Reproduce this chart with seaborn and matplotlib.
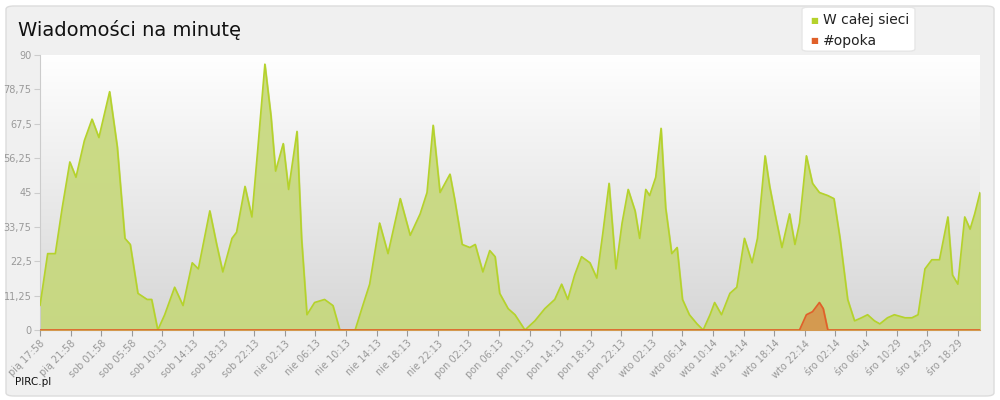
import numpy as np
import matplotlib
matplotlib.use("Agg")
import matplotlib.pyplot as plt
import seaborn as sns
import pandas as pd
from matplotlib.patches import FancyBboxPatch

hours = [0,1.0,2.0,2.9,3.9,4.7,5.8,6.8,7.7,9.1,10.1,11.1,11.8,12.8,14.0,14.6,15.4,16.3,17.6,18.7,19.9,20.7,22.2,23.1,23.9,25.1,25.7,26.8,27.7,28.5,29.4,30.2,30.8,31.8,32.5,33.6,34.2,34.9,35.9,37.2,38.3,39.2,41.2,42.2,43.1,44.4,45.5,47.1,48.4,49.7,50.6,51.4,52.3,53.6,54.2,55.2,56.2,56.9,57.9,58.8,59.5,60.1,61.2,62.1,63.4,64.7,66.0,67.3,68.2,69.0,69.9,70.8,71.9,72.8,73.6,74.4,75.3,76.1,76.9,77.8,78.4,79.2,79.7,80.5,81.2,81.8,82.6,83.3,84.0,84.9,85.9,86.7,87.6,88.2,89.1,90.2,91.1,92.1,93.1,93.8,94.8,95.4,96.1,97.0,98.0,98.7,99.3,100.2,101.0,101.9,103.0,103.8,104.6,105.6,106.5,107.4,108.2,109.1,109.8,110.8,111.7,113.1,114.0,114.8,115.7,116.6,117.6,118.7,119.3,120.0,120.9,121.6,122.2,122.9]
network = [8,25,25,40,55,50,62,69,63,78,60,30,28,12,10,10,0,5,14,8,22,20,39,28,19,30,32,47,37,60,87,70,52,61,46,65,30,5,9,10,8,0,0,8,15,35,25,43,31,38,45,67,45,51,43,28,27,28,19,26,24,12,7,5,0,3,7,10,15,10,18,24,22,17,32,48,20,35,46,39,30,46,44,50,66,40,25,27,10,5,2,0,5,9,5,12,14,30,22,30,57,47,38,27,38,28,35,57,48,45,44,43,30,10,3,4,5,3,2,4,5,4,4,5,20,23,23,37,18,15,37,33,38,45]
opoka_hours = [0, 98.0, 99.3, 100.2, 101.0, 101.9, 102.4, 103.0, 122.9]
opoka = [0, 0, 0, 5, 6, 9, 7, 0, 0]
tick_labels = ["pią 17:58","pią 21:58","sob 01:58","sob 05:58","sob 10:13","sob 14:13","sob 18:13","sob 22:13","nie 02:13","nie 06:13","nie 10:13","nie 14:13","nie 18:13","nie 22:13","pon 02:13","pon 06:13","pon 10:13","pon 14:13","pon 18:13","pon 22:13","wto 02:13","wto 06:14","wto 10:14","wto 14:14","wto 18:14","wto 22:14","śro 02:14","śro 06:14","śro 10:29","śro 14:29","śro 18:29"]
yticks = [0, 11.25, 22.5, 33.75, 45, 56.25, 67.5, 78.75, 90]

sns.set_style("white")
plt.rcParams['font.family'] = ['DejaVu Sans']
fig = plt.figure(figsize=(10, 4), dpi=100)
fig.patch.set_facecolor("white")
fig.patches.append(FancyBboxPatch((0.006, 0.01), 0.988, 0.975, boxstyle="round,pad=0,rounding_size=0.008",
                                  transform=fig.transFigure, facecolor="#f0f0f0", edgecolor="#dcdcdc", lw=1, zorder=-10))
ax = fig.add_axes([0.04, 0.175, 0.94, 0.6875])
ax.set_facecolor("none")
grad = np.linspace(1, 0, 256).reshape(-1, 1)
ax.imshow(grad, aspect="auto", cmap=matplotlib.colors.LinearSegmentedColormap.from_list("g", ["#d6d6d6", "#ffffff"]),
          extent=[0, 1, 0, 1], transform=ax.transAxes, zorder=0)

df = pd.DataFrame({"h": hours, "v": network})
ax.fill_between(hours, network, color="#c6d87a", alpha=0.9, zorder=2)
sns.lineplot(data=df, x="h", y="v", ax=ax, color="#b5d22c", lw=1.2, zorder=3)
ax.fill_between(opoka_hours, opoka, color="#d49a50", zorder=4)
sns.lineplot(x=opoka_hours, y=opoka, ax=ax, color="#e0602a", lw=1.2, zorder=5)

ax.set_xlim(0, 122.9)
ax.set_ylim(0, 90)
ax.set_xticks(np.arange(len(tick_labels)) * 4)
ax.set_xticklabels(tick_labels, rotation=45, ha="right", va="top", rotation_mode="anchor", fontsize=7, color="#999999")
ax.set_yticks(yticks)
ax.set_yticklabels([f"{t:g}".replace(".", ",") for t in yticks], fontsize=7, color="#999999")
ax.tick_params(axis="x", length=4, color="#999999", direction="out", bottom=True, pad=2)
ax.tick_params(axis="y", length=4, color="#cccccc", left=True, pad=2)
ax.set_xlabel(""); ax.set_ylabel("")
for s in ["top", "right"]:
    ax.spines[s].set_visible(False)
ax.spines["left"].set_color("#cccccc")
ax.spines["bottom"].set_color("#999999")

fig.text(0.018, 0.925, "Wiadomości na minutę", fontsize=14, color="#111111", va="center")
fig.text(0.015, 0.045, "PIRC.pl", fontsize=7.5, color="#111111", va="center")

lb = FancyBboxPatch((0.802, 0.872), 0.113, 0.11, boxstyle="round,pad=0,rounding_size=0.006",
                    transform=fig.transFigure, facecolor="white", edgecolor="#e6e6e6", lw=1, zorder=10)
fig.patches.append(lb)
fig.text(0.81, 0.95, "■", color="#b5d22c", fontsize=6, va="center", zorder=11)
fig.text(0.823, 0.95, "W całej sieci", color="#222222", fontsize=10, va="center", zorder=11)
fig.text(0.81, 0.898, "■", color="#e0602a", fontsize=6, va="center", zorder=11)
fig.text(0.823, 0.898, "#opoka", color="#222222", fontsize=10, va="center", zorder=11)

fig.savefig("out.png", dpi=100)
